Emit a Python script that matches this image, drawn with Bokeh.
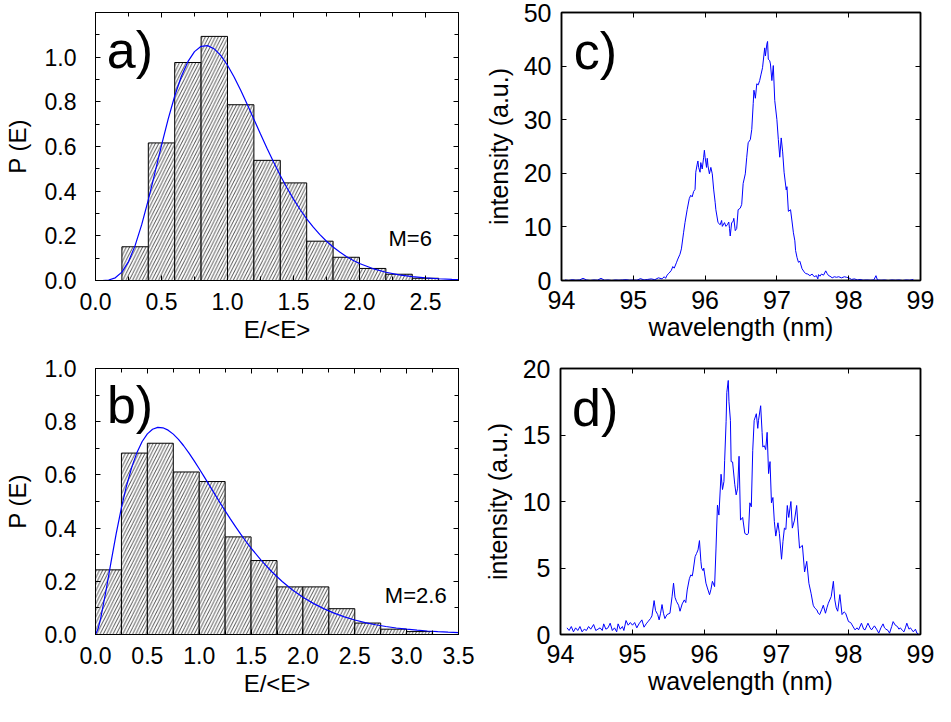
from bokeh.plotting import figure
from bokeh.models import (Range1d, LinearAxis, SingleIntervalTicker, Label,
                          PrintfTickFormatter, CustomLabelingPolicy)
from bokeh.layouts import column, row
from bokeh.embed import file_html
from bokeh.resources import INLINE

FONT = "Liberation Sans"

# ---------------- data ----------------
# panel a: histogram M=6
a_edges = [0.2, 0.4, 0.6, 0.8, 1.0, 1.2, 1.4, 1.6, 1.8, 2.0, 2.2, 2.4, 2.6]
a_counts = [0.151, 0.616, 0.976, 1.093, 0.787, 0.538, 0.437, 0.176, 0.104, 0.054, 0.028, 0.010]
a_curve_x = [0.0, 0.05, 0.1, 0.15, 0.2, 0.25, 0.3, 0.35, 0.4, 0.45,
             0.5, 0.55, 0.6, 0.65, 0.7, 0.75, 0.8, 0.85, 0.9, 0.95,
             1.0, 1.05, 1.1, 1.15, 1.2, 1.25, 1.3, 1.35, 1.4, 1.45,
             1.5, 1.55, 1.6, 1.65, 1.7, 1.75, 1.8, 1.85, 1.9, 1.95,
             2.0, 2.1, 2.2, 2.3, 2.4, 2.5, 2.6, 2.7, 2.75]
a_curve_y = [0.0, 0.0001, 0.0021, 0.0120, 0.0375, 0.0847, 0.1562, 0.2501, 0.3612, 0.4822,
             0.6049, 0.7217, 0.8261, 0.9132, 0.9799, 1.0249, 1.0485, 1.0518, 1.0369, 1.0066,
             0.9637, 0.9112, 0.8518, 0.7881, 0.7223, 0.6562, 0.5915, 0.5292, 0.4702, 0.4152,
             0.3644, 0.3180, 0.2761, 0.2386, 0.2052, 0.1757, 0.1499, 0.1273, 0.1078, 0.0909,
             0.0764, 0.0535, 0.0371, 0.0254, 0.0173, 0.0116, 0.0078, 0.0051, 0.0042]

# panel b: histogram M=2.6
b_edges = [0.0, 0.25, 0.5, 0.75, 1.0, 1.25, 1.5, 1.75, 2.0, 2.25, 2.5, 2.75, 3.0, 3.25]
b_counts = [0.243, 0.682, 0.719, 0.611, 0.575, 0.367, 0.278, 0.179, 0.179, 0.097, 0.043, 0.020, 0.011]
b_curve_x = [0.0, 0.025,
             0.05, 0.1, 0.15, 0.2, 0.25, 0.3, 0.35, 0.4, 0.45, 0.5,
             0.55, 0.6, 0.65, 0.7, 0.75, 0.8, 0.85, 0.9, 0.95, 1.0,
             1.05, 1.1, 1.15, 1.2, 1.25, 1.3, 1.35, 1.4, 1.45, 1.5,
             1.6, 1.7, 1.8, 1.9, 2.0, 2.1, 2.2, 2.3, 2.4, 2.5,
             2.6, 2.7, 2.8, 2.9, 3.0, 3.1, 3.2, 3.3, 3.4, 3.5]
b_curve_y = [0.0, 0.0215,
             0.0610, 0.1625, 0.2729, 0.3798, 0.4766, 0.5602, 0.6294, 0.6845, 0.7257, 0.7542,
             0.7714, 0.7785, 0.7770, 0.7682, 0.7533, 0.7334, 0.7096, 0.6828, 0.6537, 0.6231,
             0.5916, 0.5596, 0.5276, 0.4959, 0.4649, 0.4346, 0.4054, 0.3773, 0.3505, 0.3249,
             0.2778, 0.2360, 0.1994, 0.1676, 0.1403, 0.1170, 0.0972, 0.0804, 0.0664, 0.0546,
             0.0449, 0.0367, 0.0300, 0.0245, 0.0199, 0.0162, 0.0131, 0.0106, 0.0086, 0.0070]

# panel c: spectrum
c_wl = [94.05, 94.10, 94.15, 94.20, 94.25, 94.30, 94.35, 94.40, 94.45, 94.50,
        94.55, 94.60, 94.65, 94.70, 94.75, 94.80, 94.85, 94.90, 94.95, 95.00,
        95.05, 95.10, 95.15, 95.20, 95.25, 95.30, 95.35, 95.40, 95.43, 95.45,
        95.47, 95.50, 95.53, 95.55, 95.57, 95.60, 95.62, 95.65, 95.67, 95.70,
        95.72, 95.75, 95.78, 95.80, 95.82, 95.84, 95.86, 95.87, 95.89, 95.90,
        95.91, 95.93, 95.94, 95.96, 95.98, 95.99, 96.00, 96.02, 96.03, 96.04,
        96.06, 96.08, 96.10, 96.12, 96.14, 96.15, 96.18, 96.21, 96.23, 96.24,
        96.27, 96.29, 96.31, 96.33, 96.34, 96.35, 96.37, 96.39, 96.40, 96.42,
        96.44, 96.46, 96.49, 96.51, 96.53, 96.56, 96.58, 96.60, 96.63, 96.65,
        96.67, 96.68, 96.70, 96.72, 96.74, 96.76, 96.78, 96.80, 96.83, 96.84,
        96.86, 96.87, 96.88, 96.90, 96.91, 96.93, 96.95, 96.97, 97.00, 97.02,
        97.04, 97.06, 97.08, 97.10, 97.13, 97.14, 97.16, 97.19, 97.21, 97.23,
        97.25, 97.26, 97.28, 97.30, 97.32, 97.35, 97.38, 97.40, 97.43, 97.46,
        97.49, 97.52, 97.55, 97.57, 97.58, 97.60, 97.62, 97.65, 97.68, 97.70,
        97.72, 97.74, 97.77, 97.80, 97.83, 97.86, 97.90, 97.94, 97.97, 98.00,
        98.04, 98.08, 98.12, 98.16, 98.20, 98.25, 98.30, 98.35, 98.38, 98.40,
        98.45, 98.50, 98.55, 98.60, 98.65, 98.70, 98.75, 98.80, 98.85, 98.90]
c_int = [0.1, 0.0, 0.15, 0.05, 0.1, 0.4, 0.1, 0.0, 0.1, 0.05,
         0.4, 0.05, 0.1, 0.0, 0.1, 0.05, 0.1, 0.15, 0.05, 0.1,
         0.05, 0.35, 0.1, 0.2, 0.3, 0.15, 0.5, 0.3, 0.7, 0.4,
         1.0, 1.4, 1.9, 2.6, 2.3, 3.3, 4.0, 4.9, 5.9, 8.9,
         10.8, 13.2, 15.3, 15.9, 15.6, 16.6, 17.0, 20.2, 21.7, 22.3,
         21.1, 20.2, 22.0, 20.8, 23.0, 24.3, 23.0, 21.1, 22.8, 21.4,
         19.9, 21.1, 19.9, 16.9, 14.6, 13.2, 10.8, 10.4, 11.2, 10.1,
         10.8, 10.1, 10.4, 10.9, 9.7, 8.3, 10.8, 11.0, 11.6, 9.3,
         9.7, 13.2, 13.5, 14.2, 18.1, 19.9, 23.0, 25.7, 26.3, 28.2,
         33.0, 35.5, 34.0, 36.7, 36.5, 37.3, 38.5, 39.7, 43.4, 41.9,
         44.1, 44.6, 41.3, 41.0, 40.4, 37.3, 40.1, 33.6, 30.0, 26.3,
         23.0, 26.6, 24.0, 20.2, 16.9, 17.5, 12.9, 13.2, 11.1, 8.9,
         7.4, 5.6, 4.3, 3.4, 3.6, 2.2, 1.6, 1.3, 1.2, 0.9,
         1.2, 0.7, 0.9, 0.3, 1.1, 0.8, 1.2, 1.0, 1.8, 1.3,
         0.9, 0.8, 0.5, 0.7, 0.6, 0.7, 0.5, 0.7, 0.6, 0.5,
         0.2, 0.3, 0.1, 0.2, 0.05, 0.1, 0.05, 0.1, 0.9, 0.1,
         0.05, 0.1, 0.0, 0.1, 0.05, 0.1, 0.0, 0.1, 0.05, 0.2]

# panel d: spectrum
d_wl = [94.09, 94.12, 94.15, 94.18, 94.21, 94.24, 94.27, 94.30, 94.33, 94.36,
        94.39, 94.42, 94.46, 94.49, 94.52, 94.55, 94.58, 94.60, 94.63, 94.66,
        94.69, 94.72, 94.75, 94.78, 94.80, 94.83, 94.86, 94.88, 94.91, 94.94,
        94.97, 95.00, 95.03, 95.06, 95.09, 95.13, 95.16, 95.19, 95.22, 95.25,
        95.27, 95.30, 95.32, 95.35, 95.37, 95.39, 95.41, 95.43, 95.45, 95.48,
        95.52, 95.55, 95.57, 95.59, 95.61, 95.64, 95.66, 95.69, 95.72, 95.74,
        95.76, 95.79, 95.81, 95.83, 95.84, 95.87, 95.89, 95.91, 95.93, 95.95,
        95.96, 95.98, 95.99, 96.02, 96.04, 96.07, 96.09, 96.11, 96.14, 96.16,
        96.18, 96.20, 96.23, 96.25, 96.27, 96.28, 96.30, 96.31, 96.33, 96.34,
        96.36, 96.37, 96.39, 96.42, 96.44, 96.46, 96.48, 96.50, 96.53, 96.56,
        96.59, 96.61, 96.63, 96.65, 96.67, 96.69, 96.72, 96.74, 96.75, 96.78,
        96.80, 96.81, 96.83, 96.85, 96.87, 96.89, 96.91, 96.93, 96.95, 96.97,
        96.99, 97.02, 97.04, 97.07, 97.09, 97.11, 97.13, 97.15, 97.17, 97.20,
        97.22, 97.25, 97.28, 97.30, 97.32, 97.36, 97.39, 97.42, 97.45, 97.48,
        97.51, 97.53, 97.56, 97.58, 97.60, 97.63, 97.65, 97.68, 97.70, 97.72,
        97.76, 97.79, 97.81, 97.83, 97.85, 97.88, 97.91, 97.94, 97.96, 98.00,
        98.03, 98.05, 98.09, 98.12, 98.14, 98.18, 98.21, 98.23, 98.27, 98.30,
        98.32, 98.36, 98.39, 98.42, 98.45, 98.48, 98.50, 98.52, 98.55, 98.57,
        98.60, 98.62, 98.65, 98.68, 98.70, 98.72, 98.75, 98.77, 98.79, 98.81,
        98.84, 98.86, 98.88, 98.90, 98.93, 98.95, 98.97]
d_int = [0.5, 0.3, 0.6, 0.2, 0.5, 0.3, 0.6, 0.2, 0.4, 0.3,
         0.6, 0.4, 0.75, 0.3, 0.4, 0.5, 0.3, 0.8, 0.4, 0.5,
         0.85, 0.3, 0.5, 0.2, 0.8, 0.4, 0.6, 0.3, 1.05, 0.7,
         0.9, 0.7, 0.9, 0.5, 0.8, 1.1, 0.55, 0.8, 1.0, 1.2,
         1.4, 2.55, 1.8, 1.5, 1.1, 1.6, 2.25, 1.6, 1.2, 1.5,
         1.6, 2.87, 3.86, 2.8, 2.5, 2.2, 1.75, 2.3, 2.6, 2.4,
         3.35, 4.2, 4.48, 4.4, 4.7, 5.86, 6.1, 6.36, 7.06, 5.5,
         4.99, 4.8, 4.99, 3.86, 3.5, 2.99, 3.4, 4.0, 3.6, 6.5,
         9.73, 8.98, 12.05, 10.9, 11.5, 13.1, 16.0, 18.2, 19.1, 17.5,
         16.1, 13.0, 12.97, 11.3, 10.5, 11.0, 13.4, 8.6, 8.8, 7.6,
         7.5, 7.6, 9.9, 9.6, 13.85, 16.1, 16.6, 15.5, 16.1, 17.2,
         15.2, 14.1, 14.2, 13.9, 15.2, 12.1, 13.0, 9.9, 10.3, 8.5,
         7.4, 8.4, 7.6, 5.66, 7.0, 8.0, 7.9, 9.7, 8.8, 10.0,
         8.0, 8.6, 9.7, 8.0, 6.5, 6.7, 4.7, 5.5, 3.85, 3.1,
         2.2, 2.0, 1.85, 1.6, 1.5, 1.9, 2.2, 1.6, 2.0, 2.35,
         2.85, 4.0, 2.6, 2.0, 1.75, 3.0, 1.5, 1.7, 1.6, 0.97,
         0.9, 0.72, 0.35, 0.5, 0.35, 0.85, 0.4, 0.35, 0.85, 0.5,
         0.35, 0.65, 0.4, 0.1, 0.5, 0.8, 0.5, 0.4, 0.3, 0.1,
         0.6, 0.97, 0.7, 0.6, 0.4, 0.5, 0.3, 0.2, 0.5, 0.85,
         0.4, 0.5, 0.35, 0.2, 0.4, 0.1, 0.05]

hist_xlabel = "E/<E>"
hist_ylabel = "P (E)"
spec_xlabel = "wavelength (nm)"
spec_ylabel = "intensity (a.u.)"

HIDE_ALL = "for (const i of indices) { indices.unset(i) }\nreturn indices"


def setup_axis(ax, interval, nminor, size, show, lw, standoff=10, fmt=None):
    ax.ticker = SingleIntervalTicker(interval=interval, num_minor_ticks=nminor)
    ax.major_tick_in = 5
    ax.major_tick_out = 0
    ax.minor_tick_in = 4 if nminor else 0
    ax.minor_tick_out = 0
    ax.axis_line_color = "black"
    ax.axis_line_width = lw
    ax.major_tick_line_color = "black"
    ax.minor_tick_line_color = "black"
    ax.major_label_text_font = FONT
    ax.major_label_text_color = "black"
    ax.axis_label_text_font = FONT
    ax.axis_label_text_font_style = "normal"
    ax.axis_label_text_color = "black"
    if fmt:
        ax.formatter = PrintfTickFormatter(format=fmt)
    if show:
        ax.major_label_text_font_size = size
        ax.major_label_standoff = standoff
    else:
        ax.major_label_text_font_size = "1px"
        ax.major_label_standoff = 0
        ax.major_label_policy = CustomLabelingPolicy(code=HIDE_ALL)


def make_fig(w, h, xr, yr, bl, br, bt, bb, xint, xmin, yint, ymin, tick_size, lw,
             xlabel, ylabel, lab_size, xstand, ystand, xls, yls, fmt=None):
    p = figure(width=w, height=h, x_range=Range1d(*xr), y_range=Range1d(*yr),
               output_backend="svg", toolbar_location=None,
               min_border_left=bl, min_border_right=br, min_border_top=bt, min_border_bottom=bb)
    p.xgrid.visible = False
    p.ygrid.visible = False
    p.outline_line_color = "black"
    p.outline_line_width = lw
    p.background_fill_color = "white"
    p.border_fill_color = "white"
    setup_axis(p.xaxis[0], xint, xmin, tick_size, True, lw, xstand, fmt)
    setup_axis(p.yaxis[0], yint, ymin, tick_size, True, lw, ystand, fmt)
    p.xaxis[0].axis_label = xlabel
    p.yaxis[0].axis_label = ylabel
    p.xaxis[0].axis_label_text_font_size = lab_size
    p.yaxis[0].axis_label_text_font_size = lab_size
    p.xaxis[0].axis_label_standoff = xls
    p.yaxis[0].axis_label_standoff = yls
    top = LinearAxis()
    setup_axis(top, xint, xmin, tick_size, False, lw)
    right = LinearAxis()
    setup_axis(right, yint, ymin, tick_size, False, lw)
    p.add_layout(top, "above")
    p.add_layout(right, "right")
    return p


def hist(p, edges, counts, cx, cy):
    p.quad(left=edges[:-1], right=edges[1:], bottom=[0] * len(counts), top=counts,
           fill_color="white", line_color="black", line_width=1,
           hatch_pattern="/", hatch_color="black", hatch_scale=6.5, hatch_weight=0.7)
    p.line(cx, cy, line_color="#0000ff", line_width=1.2)


def big_label(p, x, y, text):
    p.add_layout(Label(x=x, y=y, text=text, text_font=FONT, text_font_size="52px",
                       text_color="black", text_baseline="alphabetic"))


def small_label(p, x, y, text):
    p.add_layout(Label(x=x, y=y, text=text, text_font=FONT, text_font_size="22px",
                       text_color="black", text_baseline="alphabetic"))


# panel a
pa = make_fig(480, 354, (0, 2.75), (0, 1.2), 87, 22, 12, 74, 0.5, 2, 0.2, 2, "23px", 1,
              hist_xlabel, hist_ylabel, "24px", 12, 19, 3, 11, fmt="%.1f")
hist(pa, a_edges, a_counts, a_curve_x, a_curve_y)
big_label(pa, 0.085, 1.03, "a)")
small_label(pa, 2.22, 0.188, "M=6")

# panel b
pb = make_fig(480, 352, (0, 3.5), (0, 1.0), 85, 22, 13, 72, 0.5, 2, 0.2, 2, "23px", 1,
              hist_xlabel, hist_ylabel, "24px", 12, 19, 3, 11, fmt="%.1f")
hist(pb, b_edges, b_counts, b_curve_x, b_curve_y)
big_label(pb, 0.11, 0.864, "b)")
small_label(pb, 2.79, 0.146, "M=2.6")

# panel c
pc = make_fig(455, 354, (94, 99), (0, 50), 81, 15, 12, 69, 1, 0, 10, 0, "25px", 1.5,
              spec_xlabel, spec_ylabel, "25px", 10, 10, 1, 8)
pc.line(c_wl, c_int, line_color="#0000ff", line_width=1)
big_label(pc, 94.17, 42.8, "c)")

# panel d
pd_ = make_fig(455, 352, (94, 99), (0, 20), 79, 15, 14, 72, 1, 0, 5, 0, "25px", 1.5,
               spec_xlabel, spec_ylabel, "25px", 10, 10, 1, 8)
pd_.line(d_wl, d_int, line_color="#0000ff", line_width=1)
big_label(pd_, 94.16, 17.05, "d)")

layout = column(row(pa, pc), row(pb, pd_))
open("out.html", "w").write(file_html(layout, INLINE))
